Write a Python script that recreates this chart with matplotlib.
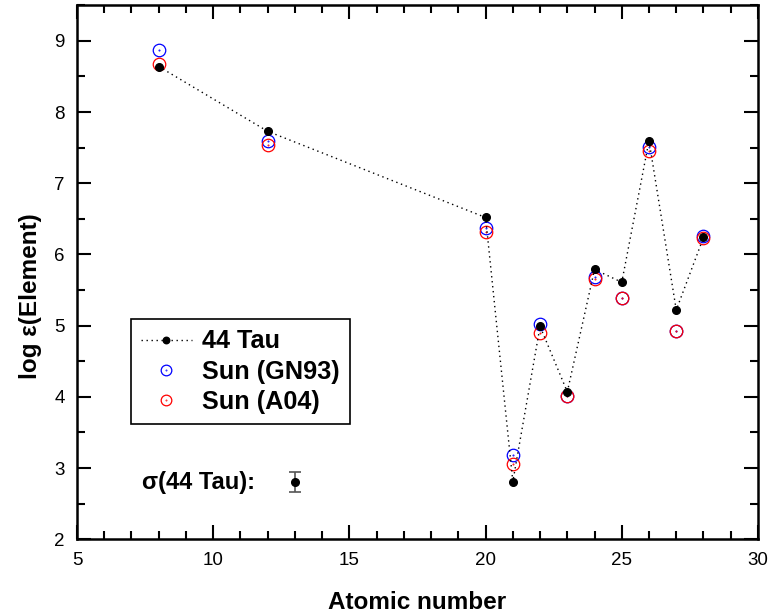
import matplotlib
matplotlib.use('Agg')
import matplotlib.pyplot as plt
from matplotlib.path import Path
from matplotlib.ticker import MultipleLocator

plt.rcParams['font.family'] = ['Liberation Sans', 'DejaVu Sans']

# abundances by atomic number (O, Mg, Ca, Sc, Ti, V, Cr, Mn, Fe, Co, Ni)
z = [8, 12, 20, 21, 22, 23, 24, 25, 26, 27, 28]
tau44 = [8.64, 7.73, 6.52, 2.81, 4.99, 4.07, 5.79, 5.61, 7.60, 5.22, 6.24]
sun_gn93 = [8.87, 7.60, 6.37, 3.18, 5.03, 4.01, 5.69, 5.39, 7.51, 4.92, 6.26]
sun_a04 = [8.67, 7.54, 6.32, 3.06, 4.90, 4.01, 5.65, 5.39, 7.45, 4.92, 6.23]

# typical uncertainty of the 44 Tau abundances
sigma_x = 13
sigma_y = 2.80
sigma_err = 0.14

# open circle with a tiny dot in the middle
ring = Path.make_compound_path(Path.circle((0, 0), 1.0), Path.circle((0, 0), 0.06))

fig = plt.figure(figsize=(7.71, 6.15), dpi=100)
ax = fig.add_axes([0.0999, 0.1231, 0.8832, 0.8683])

dots = (0, (1, 2.6))
p1, = ax.plot(z, tau44, linestyle=dots, color='black', lw=1.0,
              marker='o', ms=5.5, mfc='black', mec='black', zorder=3)
p2, = ax.plot(z, sun_gn93, linestyle='none', marker=ring, ms=9,
              mfc='none', mec='blue', mew=0.9, zorder=2)
p3, = ax.plot(z, sun_a04, linestyle='none', marker=ring, ms=9,
              mfc='none', mec='red', mew=0.9, zorder=2)

# error bar sample
ax.errorbar([sigma_x], [sigma_y], yerr=[sigma_err], fmt='o', color='black',
            ms=5.5, ecolor='#555555', elinewidth=1.2, capsize=4.5, capthick=1.2)
ax.text(7.4, sigma_y, u'\u03c3(44 Tau):', fontsize=17, fontweight='bold',
        ha='left', va='center')

lgd = ax.legend([p1, p2, p3], ['44 Tau', 'Sun (GN93)', 'Sun (A04)'],
                loc='upper left', bbox_to_anchor=(0.0793, 0.412),
                prop={'size': 18.2, 'weight': 'bold'}, fancybox=False,
                framealpha=1, edgecolor='black', handlelength=2.0,
                handletextpad=0.4, labelspacing=0.25, borderpad=0.4,
                borderaxespad=0, markerscale=0.85)
lgd.get_frame().set_linewidth(1.2)

ax.set_xlim(5, 30)
ax.set_ylim(2, 9.5)
ax.xaxis.set_major_locator(MultipleLocator(5))
ax.xaxis.set_minor_locator(MultipleLocator(1))
ax.yaxis.set_major_locator(MultipleLocator(1))
ax.yaxis.set_minor_locator(MultipleLocator(0.5))
ax.tick_params(which='both', direction='in', top=True, right=True, width=1.5)
ax.tick_params(which='major', length=10, labelsize=13.5, pad=9)
ax.tick_params(which='minor', length=6)
for s in ax.spines.values():
    s.set_linewidth(1.8)

ax.set_xlabel('Atomic number', fontsize=17.5, fontweight='bold')
ax.set_ylabel(u'log \u03b5(Element)', fontsize=17.5, fontweight='bold')
ax.xaxis.set_label_coords(0.5, -0.119)
ax.xaxis.label.set_va('center')
ax.yaxis.set_label_coords(-0.069, 0.456)
ax.yaxis.label.set_va('center')

fig.savefig('out.png', dpi=100)
